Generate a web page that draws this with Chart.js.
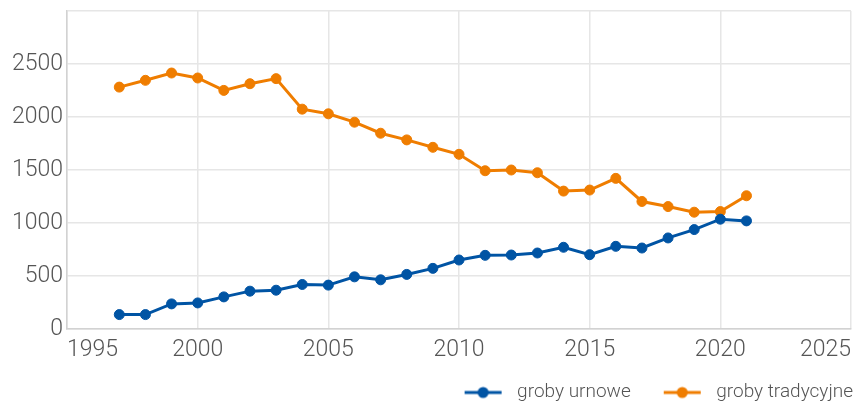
<!DOCTYPE html>
<html>
<head>
<meta charset="utf-8">
<script src="https://cdn.jsdelivr.net/npm/chart.js@4.4.1/dist/chart.umd.min.js"></script>
<style>
  html, body { margin: 0; padding: 0; background: #ffffff; }
  #wrap { position: relative; width: 857px; height: 401px; }
</style>
</head>
<body>
<div id="wrap"><canvas id="c"></canvas></div>
<script>
const years = [1997, 1998, 1999, 2000, 2001, 2002, 2003, 2004, 2005, 2006, 2007, 2008, 2009,
               2010, 2011, 2012, 2013, 2014, 2015, 2016, 2017, 2018, 2019, 2020, 2021];
const grobyUrnowe = [136, 136, 237, 246, 303, 357, 366, 420, 414, 492, 464, 515, 572,
                     651, 695, 698, 717, 771, 701, 780, 764, 859, 938, 1036, 1020];
const grobyTradycyjne = [2282, 2346, 2415, 2368, 2251, 2314, 2362, 2074, 2030, 1951, 1847, 1784, 1714,
                         1648, 1493, 1500, 1474, 1301, 1311, 1421, 1203, 1155, 1102, 1108, 1257];
const seriesNames = ['groby urnowe', 'groby tradycyjne'];
const xTicks = [1995, 2000, 2005, 2010, 2015, 2020, 2025];
const yTicks = [0, 500, 1000, 1500, 2000, 2500, 3000];

const BLUE = '#0054a4';
const ORANGE = '#ef7d00';
const TEXT = '#555555';
const FONT = 'Roboto, "Noto Sans", sans-serif';

// legend icon: transparent lead-in (item spacing) + line with a dot
const LEAD = 33;
function legendIcon(color) {
  const cv = document.createElement('canvas');
  cv.width = LEAD + 43; cv.height = 14;
  const g = cv.getContext('2d');
  g.strokeStyle = color; g.lineWidth = 3;
  g.beginPath(); g.moveTo(LEAD, 7); g.lineTo(LEAD + 37, 7); g.stroke();
  g.fillStyle = color;
  g.beginPath(); g.arc(LEAD + 18.5, 7, 5.5, 0, Math.PI * 2); g.fill();
  return cv;
}

// nudge the legend box into the reference's position (bottom-right corner)
const legendNudge = {
  id: 'legendNudge',
  afterLayout(chart) {
    const l = chart.legend;
    if (!l) return;
    const dx = 0, dy = 11;
    l.left += dx; l.right += dx;
    l.top += dy; l.bottom += dy;
  }
};

const toPoints = arr => years.map((y, i) => ({ x: y, y: arr[i] }));

new Chart(document.getElementById('c'), {
  type: 'line',
  data: {
    datasets: [
      {
        label: seriesNames[0],
        data: toPoints(grobyUrnowe),
        borderColor: BLUE, backgroundColor: BLUE,
        borderWidth: 3, pointRadius: 5, pointBorderWidth: 1,
        pointBackgroundColor: BLUE, pointBorderColor: BLUE,
        pointStyle: 'circle', tension: 0,
        legendIcon: legendIcon(BLUE)
      },
      {
        label: seriesNames[1],
        data: toPoints(grobyTradycyjne),
        borderColor: ORANGE, backgroundColor: ORANGE,
        borderWidth: 3, pointRadius: 5, pointBorderWidth: 1,
        pointBackgroundColor: ORANGE, pointBorderColor: ORANGE,
        pointStyle: 'circle', tension: 0,
        legendIcon: legendIcon(ORANGE)
      }
    ]
  },
  plugins: [legendNudge],
  options: {
    responsive: true,
    maintainAspectRatio: false,
    animation: false,
    layout: { padding: { left: 8, right: 4, top: 11, bottom: 0 } },
    scales: {
      x: {
        type: 'linear',
        min: xTicks[0], max: xTicks[xTicks.length - 1],
        afterBuildTicks: axis => { axis.ticks = xTicks.map(v => ({ value: v })); },
        afterFit: axis => { axis.paddingLeft = 0; axis.paddingRight = 0; },
        ticks: {
          align: 'inner',
          padding: 10,
          color: TEXT,
          font: { family: FONT, size: 23, weight: 300, lineHeight: 1 },
          maxRotation: 0,
          callback: v => String(v)
        },
        grid: { color: '#e6e6e6', lineWidth: 1.5, drawTicks: false },
        border: { color: '#d2d2d2', width: 1.5 }
      },
      y: {
        min: yTicks[0], max: yTicks[yTicks.length - 1],
        afterBuildTicks: axis => { axis.ticks = yTicks.map(v => ({ value: v })); },
        afterFit: axis => { axis.paddingTop = 0; },
        ticks: {
          padding: 4,
          color: TEXT,
          font: { family: FONT, size: 23, weight: 300 },
          callback: v => (v === 3000 ? '' : String(v))
        },
        grid: { color: '#e6e6e6', lineWidth: 1.5, drawTicks: false },
        border: { color: '#d2d2d2', width: 1.5 }
      }
    },
    plugins: {
      tooltip: { enabled: false },
      legend: {
        position: 'bottom',
        align: 'end',
        labels: {
          usePointStyle: true,
          pointStyleWidth: LEAD + 43,
          padding: 0,
          color: TEXT,
          font: { family: FONT, size: 19, weight: 300 },
          generateLabels: chart => chart.data.datasets.map((ds, i) => ({
            text: ds.label,
            pointStyle: ds.legendIcon,
            fillStyle: ds.borderColor,
            strokeStyle: ds.borderColor,
            lineWidth: 0,
            fontColor: TEXT,
            hidden: false,
            datasetIndex: i
          }))
        }
      }
    }
  }
});
</script>
</body>
</html>
